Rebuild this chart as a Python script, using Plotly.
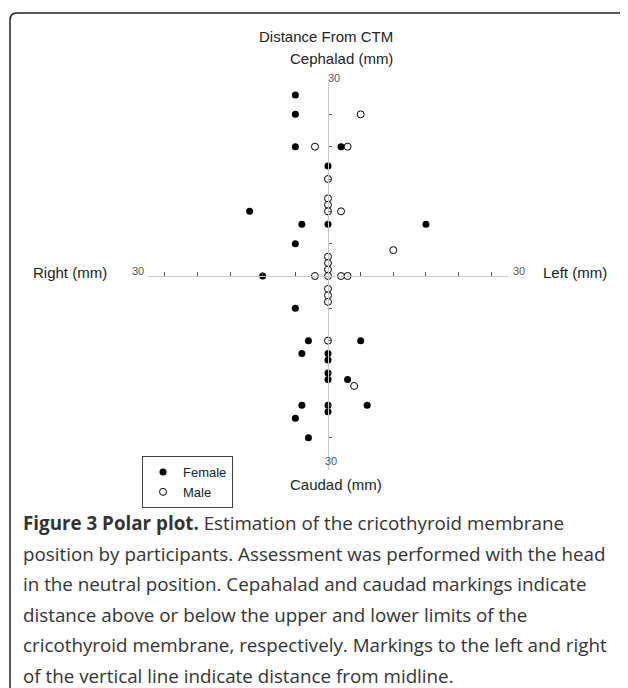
import plotly.graph_objects as go

# ---- data (mm from CTM; x: + = left, - = right; y: + = cephalad, - = caudad)
female_x = [-5, -5, -5, 2, 0, -12, -4, 0, 15, -5, -10, -5, -3, 5, -4, 0, 0, 0, 0, 3, -4, 0, 6, 0, -5, -3]
female_y = [28, 25, 20, 20, 17, 10, 8, 8, 8, 5, 0, -5, -10, -10, -12, -12, -13, -15, -16, -16, -20, -20, -20, -21, -22, -25]
male_x = [5, -2, 3, 0, 0, 0, 0, 2, 10, 0, 0, 0, -2, 0, 2, 3, 0, 0, 0, 0, 4]
male_y = [25, 20, 20, 15, 12, 11, 10, 10, 4, 3, 2, 1, 0, 0, 0, 0, -2, -3, -4, -10, -17]
tick_vals = [-25, -20, -15, -10, -5, 5, 10, 15, 20, 25]
end_label = "30"

title_text = "Distance From CTM"
top_label = "Cephalad (mm)"
bottom_label = "Caudad (mm)"
left_label = "Right (mm)"
right_label = "Left (mm)"
caption_lines = [
    "<b>Figure 3 Polar plot.</b> Estimation of the cricothyroid membrane",
    "position by participants. Assessment was performed with the head",
    "in the neutral position. Cepahalad and caudad markings indicate",
    "distance above or below the upper and lower limits of the",
    "cricothyroid membrane, respectively. Markings to the left and right",
    "of the vertical line indicate distance from midline.",
]

W, H = 628, 688
OFF = 8  # page body margin offset compensation


def px(x):
    return (x - OFF) / W


def py(y):
    return 1 - (y - OFF) / H


CX, CY = 328.3, 276
font_chart = "Liberation Sans, Arial, sans-serif"

fig = go.Figure()
fig.add_trace(go.Scatter(
    x=female_x, y=female_y, mode="markers", name="Female",
    marker=dict(symbol="circle", size=7, color="black", line=dict(width=0)),
))
fig.add_trace(go.Scatter(
    x=male_x, y=male_y, mode="markers", name="Male",
    marker=dict(symbol="circle", size=7, color="white", line=dict(width=1, color="black")),
))

annotations = []


def ann(text, x, y, size=15, color="#222", xanchor="center", font=font_chart):
    annotations.append(dict(text=text, x=px(x), y=py(y), xref="paper", yref="paper",
                            showarrow=False, xanchor=xanchor, yanchor="middle",
                            font=dict(family=font, size=size, color=color)))


ann(title_text, 326, 37)
ann(top_label, 341, 58)
ann(bottom_label, 336, 484)
ann(left_label, 109, 272, xanchor="right")
ann(right_label, 541, 272, xanchor="left")
ann(end_label, 334, 78, size=11, color="#555")
ann(end_label, 331, 461, size=11, color="#555")
ann(end_label, 138, 271, size=11, color="#555")
ann(end_label, 519, 271, size=11, color="#555")

cap_y0 = 523
for i, line in enumerate(caption_lines):
    annotations.append(dict(text=line, x=px(21), y=py(cap_y0 + i * 30.6), xref="paper", yref="paper",
                            showarrow=False, xanchor="left", yanchor="middle",
                            font=dict(family="Open Sans, Noto Sans, sans-serif", size=18.8, color="#333")))

# rounded outer frame
r = 7
x0, y0 = 10, 13
path = (f"M {px(x0)},{py(H + 20)} L {px(x0)},{py(y0 + r)} "
        f"Q {px(x0)},{py(y0)} {px(x0 + r)},{py(y0)} L {px(W + 20)},{py(y0)}")

fig.update_layout(
    width=W, height=H,
    margin=dict(l=0, r=0, t=0, b=0),
    paper_bgcolor="white", plot_bgcolor="white",
    showlegend=True,
    legend=dict(x=px(142), y=py(456), xanchor="left", yanchor="top",
                bordercolor="#444", borderwidth=1, bgcolor="white",
                font=dict(family=font_chart, size=13, color="#222"),
                itemwidth=30, tracegroupgap=0),
    xaxis=dict(domain=[px(148), px(508)], range=[-180 / 6.53, 180 / 6.53],
               anchor="free", position=py(CY), side="top",
               showline=True, linecolor="#c8c8c8", linewidth=1,
               ticks="outside", ticklen=4, tickcolor="#555", tickwidth=1,
               tickvals=tick_vals, showticklabels=False,
               showgrid=False, zeroline=False, fixedrange=True),
    yaxis=dict(domain=[py(470), py(82)], range=[-30, 30],
               anchor="free", position=px(CX), side="right",
               showline=True, linecolor="#c8c8c8", linewidth=1,
               ticks="outside", ticklen=3, tickcolor="#555", tickwidth=1,
               tickvals=tick_vals, showticklabels=False,
               showgrid=False, zeroline=False, fixedrange=True),
    annotations=annotations,
    shapes=[dict(type="path", path=path, xref="paper", yref="paper",
                 line=dict(color="#222", width=1.5))],
)

fig.write_html("out.html")
